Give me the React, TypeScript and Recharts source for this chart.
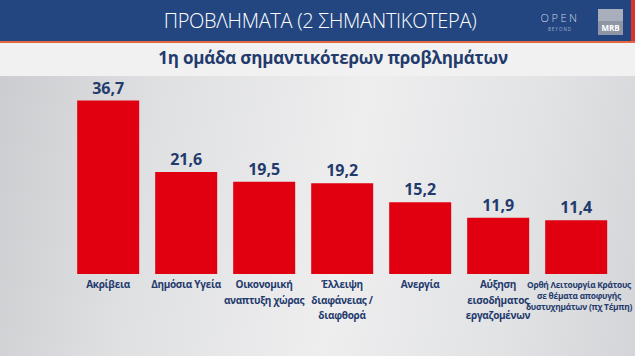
import { BarChart, Bar, XAxis, YAxis, LabelList } from 'recharts'

// categories (line breaks as in the graphic)
const categories = [
  'Ακρίβεια',
  'Δημόσια Υγεία',
  'Οικονομική\nαναπτυξη χώρας',
  'Έλλειψη\nδιαφάνειας /\nδιαφθορά',
  'Ανεργία',
  'Αύξηση\nεισοδήματος\nεργαζομένων',
  'Ορθή Λειτουργία Κράτους\nσε θέματα αποφυγής\nδυστυχημάτων (πχ Τέμπη)',
]
const values = [36.7, 21.6, 19.5, 19.2, 15.2, 11.9, 11.4]

const title = 'ΠΡΟΒΛΗΜΑΤΑ (2 ΣΗΜΑΝΤΙΚΟΤΕΡΑ)'
const subtitle = '1η ομάδα σημαντικότερων προβλημάτων'

const data = categories.map((name, i) => ({ name, value: values[i] }))

const NAVY = '#233a6c'
const RED = '#e0000f'

function CategoryTick({ x, y, payload }: any) {
  const lines = String(payload.value).split('\n')
  const small = lines.some(l => l.length > 16)
  const fs = small ? 8.4 : 10
  const lh = small ? 11 : 15.5
  return (
    <text x={x} y={y} textAnchor="middle" fill={NAVY}
      style={{ fontFamily: 'Open Sans', fontWeight: 700, fontSize: fs, letterSpacing: small ? -0.25 : -0.3 }}>
      {lines.map((l, i) => (
        <tspan key={i} x={small ? x + 3 : x} dy={i === 0 ? 6 : lh}>{l}</tspan>
      ))}
    </text>
  )
}

export default function App() {
  return (
    <div style={{
      position: 'absolute', left: 0, top: 0, width: 635, height: 356, overflow: 'hidden',
      background: 'linear-gradient(100deg, #c9cbce 0%, #dfe0e2 25%, #eeeeef 55%, #e2e3e5 80%, #d3d5d8 100%)',
      fontFamily: 'Open Sans',
    }}>
      {/* header */}
      <div style={{ position: 'absolute', left: 0, top: 0, width: 635, height: 41, background: '#244680' }} />
      <div style={{ position: 'absolute', left: 0, top: 41, width: 635, height: 2, background: '#e4673f' }} />
      <div style={{ position: 'absolute', left: 631, top: 0, width: 4, height: 41, background: '#d8322a' }} />
      <div style={{
        position: 'absolute', left: 160, top: 8, width: 320, textAlign: 'center',
        color: '#ffffff', fontSize: 20, fontWeight: 300, letterSpacing: -0.3, lineHeight: '26px',
      }}>{title}</div>
      <div style={{
        position: 'absolute', left: 538, top: 12, width: 44, textAlign: 'center',
        color: '#c9d3e6', fontSize: 11, fontWeight: 300, letterSpacing: 2.5, lineHeight: '12px',
      }}>OPEN</div>
      <div style={{
        position: 'absolute', left: 538, top: 26, width: 44, textAlign: 'center',
        color: '#9fb0cf', fontSize: 4.5, letterSpacing: 1, lineHeight: '6px',
      }}>BEYOND</div>
      <div style={{ position: 'absolute', left: 598, top: 9, width: 25, height: 26, background: '#8e96a6' }} />
      <div style={{ position: 'absolute', left: 598, top: 9, width: 25, height: 12, background: '#a8aebb' }} />
      <div style={{
        position: 'absolute', left: 598, top: 23, width: 25, textAlign: 'center',
        color: '#ffffff', fontSize: 8, fontWeight: 700, lineHeight: '10px',
      }}>MRB</div>
      {/* subtitle band */}
      <div style={{ position: 'absolute', left: 0, top: 43, width: 635, height: 33, background: '#f1f1f1' }} />
      <div style={{
        position: 'absolute', left: 0, top: 46, width: 666, textAlign: 'center',
        color: NAVY, fontSize: 17, fontWeight: 700, lineHeight: '24px', letterSpacing: -0.2,
      }}>{subtitle}</div>

      <div style={{ position: 'absolute', left: 0, top: 0 }}>
        <BarChart width={635} height={356} data={data}
          margin={{ top: 85, right: 20, bottom: 22, left: 69 }} barCategoryGap="10.5%">
          <XAxis dataKey="name" interval={0} axisLine={false} tickLine={false} height={60}
            tick={<CategoryTick />} />
          <YAxis hide domain={[0, 40]} />
          <Bar dataKey="value" fill={RED} isAnimationActive={false}>
            <LabelList dataKey="value" position="top" offset={7}
              formatter={(v: any) => Number(v).toFixed(1).replace('.', ',')}
              style={{ fill: NAVY, fontFamily: 'Open Sans', fontWeight: 700, fontSize: 16 }} />
          </Bar>
        </BarChart>
      </div>
    </div>
  )
}
